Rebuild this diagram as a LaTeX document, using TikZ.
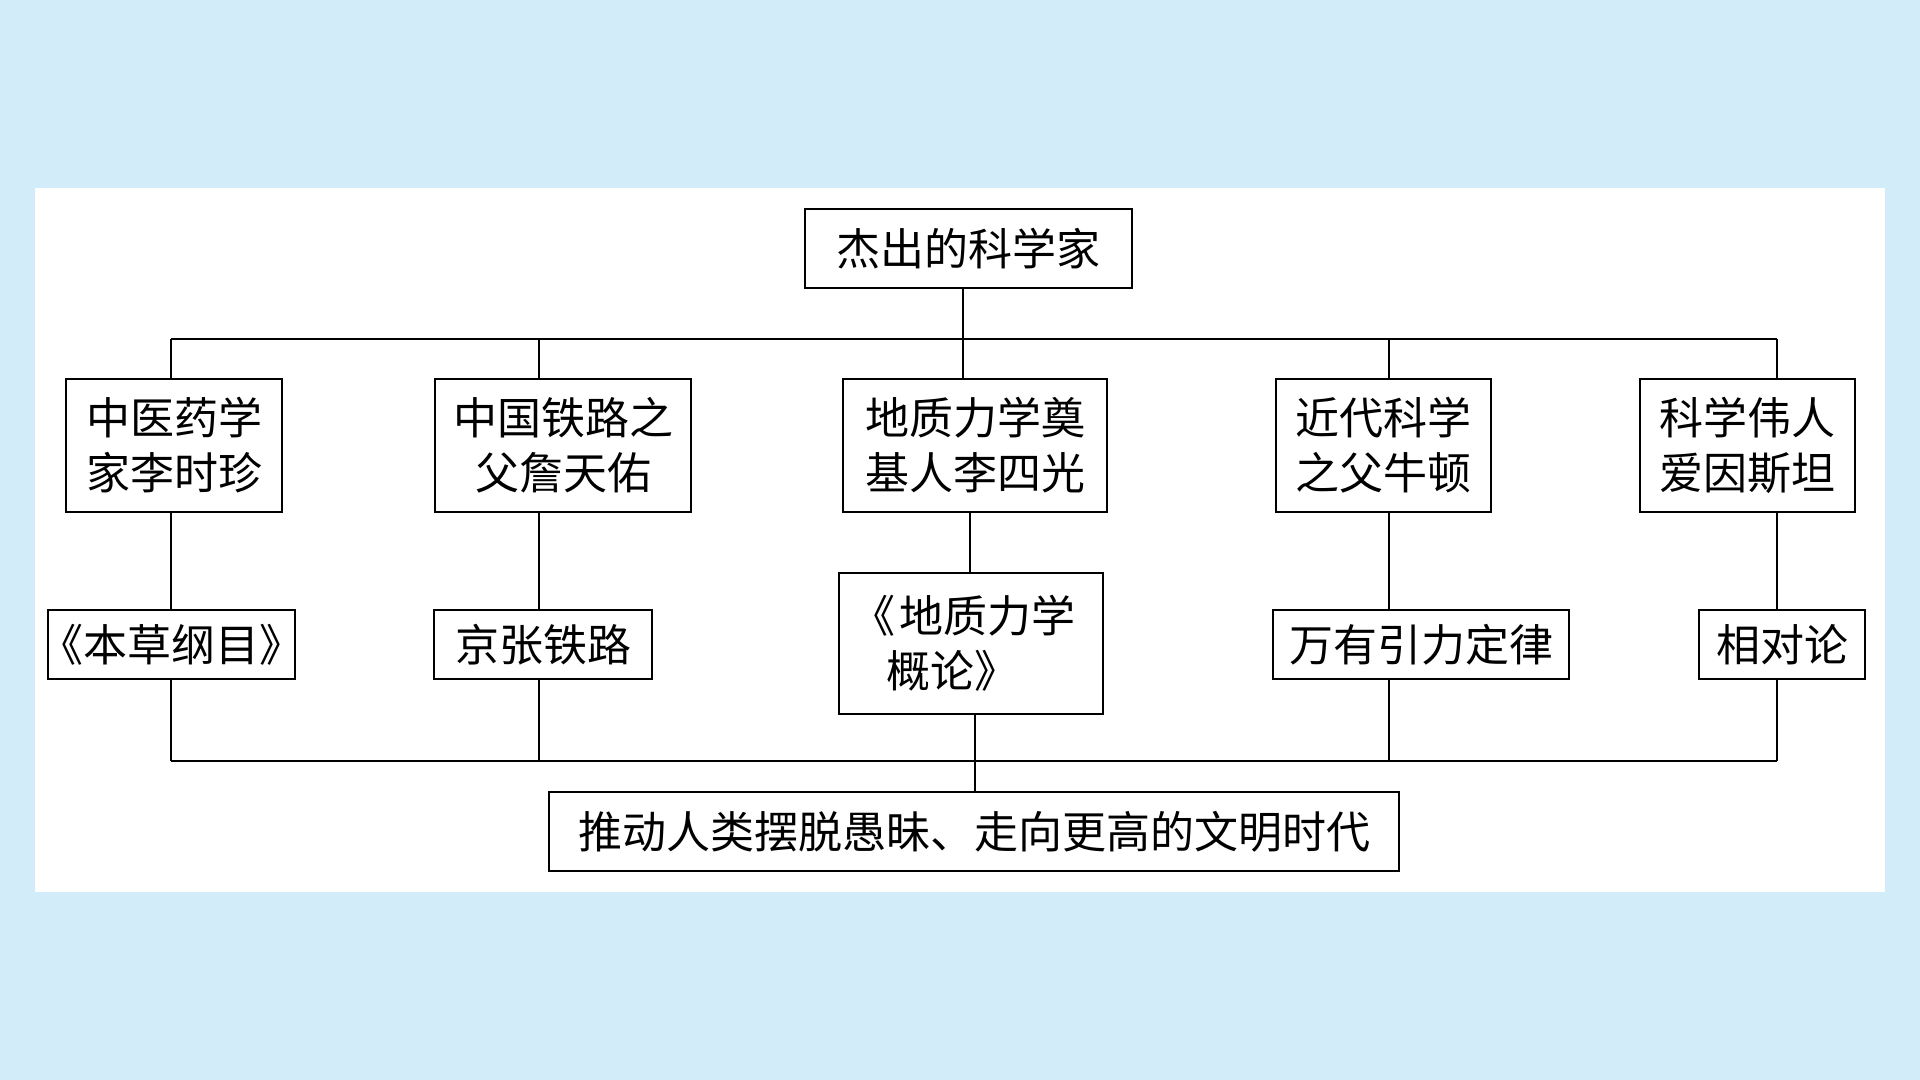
\documentclass[tikz,border=0pt]{standalone}
\usepackage{fontspec}
\setmainfont{Noto Sans CJK SC}
\newfontfamily\cjkhalt{Noto Sans CJK SC}[RawFeature=+halt]
\definecolor{bgblue}{RGB}{210,237,249}
\begin{document}
\begin{tikzpicture}[x=0.5pt,y=-0.5pt,
  box/.style={draw=black,line width=1.3pt,fill=white,inner sep=0pt,align=center,
    font=\fontsize{22}{27.5}\selectfont},
  link/.style={draw=black,line width=1pt}]
\useasboundingbox (0,0) rectangle (1920,1080);
\fill[bgblue] (0,0) rectangle (1920,1080);
\fill[white] (35,188) rectangle (1885,892);
% top
\node[box,minimum width=327*0.5pt,minimum height=79*0.5pt] (top) at (968.5,248.5) {杰出的科学家};
% row 1
\node[box,minimum width=216*0.5pt,minimum height=133*0.5pt] (b1) at (174,445.5) {中医药学\\家李时珍};
\node[box,minimum width=256*0.5pt,minimum height=133*0.5pt] (b2) at (563,445.5) {中国铁路之\\父詹天佑};
\node[box,minimum width=264*0.5pt,minimum height=133*0.5pt] (b3) at (975,445.5) {地质力学奠\\基人李四光};
\node[box,minimum width=215*0.5pt,minimum height=133*0.5pt] (b4) at (1383.5,445.5) {近代科学\\之父牛顿};
\node[box,minimum width=215*0.5pt,minimum height=133*0.5pt] (b5) at (1747.5,445.5) {科学伟人\\爱因斯坦};
% row 2
\node[box,minimum width=247*0.5pt,minimum height=69*0.5pt] (c1) at (171.5,644.5) {{\cjkhalt 《}本草纲目{\cjkhalt 》}};
\node[box,minimum width=218*0.5pt,minimum height=69*0.5pt] (c2) at (543,644.5) {京张铁路};
\node[box,minimum width=264*0.5pt,minimum height=141*0.5pt,align=left] (c3) at (971,643.5) {\hspace{-0.35em}《\hspace{0.1em}地质力学\\\hspace{0.45em}概论》};
\node[box,minimum width=296*0.5pt,minimum height=69*0.5pt] (c4) at (1421,644.5) {万有引力定律};
\node[box,minimum width=166*0.5pt,minimum height=69*0.5pt] (c5) at (1782,644.5) {相对论};
% bottom
\node[box,minimum width=850*0.5pt,minimum height=79*0.5pt] (bot) at (974,831.5) {推动人类摆脱愚昧、走向更高的文明时代};
% bus levels and columns
\coordinate (busT) at (0,339);
\coordinate (busB) at (0,761);
\coordinate (k1) at (171,0);
\coordinate (k2) at (539,0);
\coordinate (k3t) at (963,0);
\coordinate (k3m) at (970,0);
\coordinate (k3b) at (975,0);
\coordinate (k4) at (1389,0);
\coordinate (k5) at (1777,0);
% top part
\draw[link] (top.south -| k3t) -- (busT -| k3t);
\draw[link] (busT -| k1) -- (busT -| k5);
\foreach \n/\k in {b1/k1,b2/k2,b3/k3t,b4/k4,b5/k5} {\draw[link] (\n.north -| \k) -- (busT -| \k);}
% middle
\foreach \u/\l/\k in {b1/c1/k1,b2/c2/k2,b3/c3/k3m,b4/c4/k4,b5/c5/k5} {\draw[link] (\u.south -| \k) -- (\l.north -| \k);}
% bottom part
\draw[link] (busB -| k1) -- (busB -| k5);
\foreach \n/\k in {c1/k1,c2/k2,c4/k4,c5/k5} {\draw[link] (\n.south -| \k) -- (busB -| \k);}
\draw[link] (c3.south -| k3b) -- (bot.north -| k3b);
\end{tikzpicture}
\end{document}
